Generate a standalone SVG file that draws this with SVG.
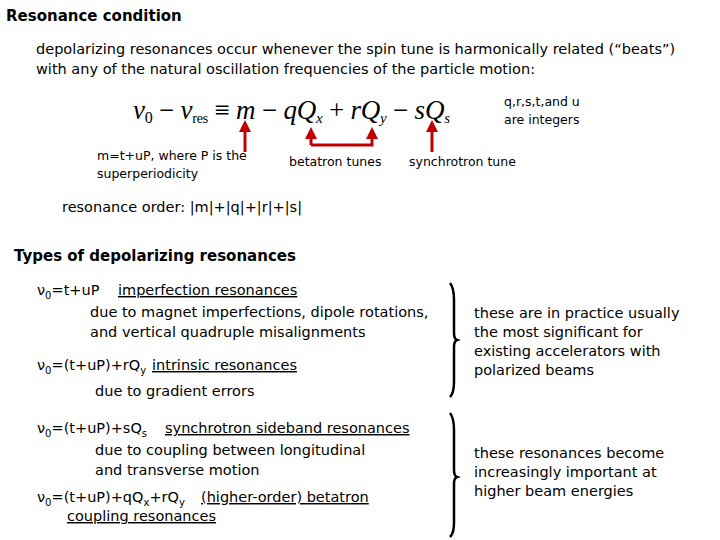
<svg xmlns="http://www.w3.org/2000/svg" width="720" height="540" viewBox="0 0 720 540">
<style>
text{font-family:"DejaVu Sans","Liberation Sans",sans-serif;fill:#000}
.b{font-weight:bold;font-size:15px}
.t{font-size:14.5px}
.s{font-size:12.5px}
.m{font-family:"Liberation Serif","DejaVu Serif",serif;font-size:27px;font-style:italic}
.u{text-decoration:underline}
.arr{stroke:#c00000;stroke-width:3;fill:none}
.br{stroke:#000;stroke-width:2.5;fill:none}
</style>
<defs><marker id="ah" markerWidth="4" markerHeight="4" refX="2" refY="2" orient="auto"><path d="M0,0L4,2L0,4z" fill="#c00000"/></marker></defs>
<rect width="720" height="540" fill="#fff"/>
<g id="title"><text class="b" x="6" y="21">Resonance condition</text></g>
<g id="intro"><text class="t" x="36" y="54">depolarizing resonances occur whenever the spin tune is harmonically related (“beats”)</text><text class="t" x="36" y="74">with any of the natural oscillation frequencies of the particle motion:</text></g>
<g id="formula"><text class="m" x="133" y="119" textLength="317" lengthAdjust="spacing">ν<tspan font-style="normal" font-size="16" dy="4">0</tspan><tspan dy="-4" font-style="normal"> − </tspan>ν<tspan font-style="normal" font-size="14" dy="4">res</tspan><tspan dy="-4" font-style="normal"> ≡ </tspan>m<tspan font-style="normal"> − </tspan>qQ<tspan font-size="15" dy="4">x</tspan><tspan dy="-4" font-style="normal"> + </tspan>rQ<tspan font-size="15" dy="4">y</tspan><tspan dy="-4" font-style="normal"> − </tspan>sQ<tspan font-size="15" dy="4">s</tspan></text></g>
<g id="integers"><text class="s" x="504" y="106">q,r,s,t,and u</text><text class="s" x="504" y="124">are integers</text></g>
<g id="connectors">
<path class="arr" d="M245,152V126" marker-end="url(#ah)"/>
<path class="arr" d="M311,145V134M311,145H372V134" />
<path class="arr" d="M311,137V133" marker-end="url(#ah)"/>
<path class="arr" d="M372,137V133" marker-end="url(#ah)"/>
<path class="arr" d="M432,152V126" marker-end="url(#ah)"/>
</g>
<g id="mlabel"><text class="s" x="97" y="160">m=t+uP, where P is the</text><text class="s" x="97" y="178">superperiodicity</text></g>
<g id="betatron"><text class="s" x="289" y="166">betatron tunes</text></g>
<g id="synchrotron"><text class="s" x="409" y="166">synchrotron tune</text></g>
<g id="order"><text class="t" x="62" y="212">resonance order: |m|+|q|+|r|+|s|</text></g>
<g id="types"><text class="b" x="14" y="261">Types of depolarizing resonances</text></g>
<g id="imperf"><text class="t" x="37" y="295">ν<tspan font-size="10" dy="4">0</tspan><tspan dy="-4">=t+uP  </tspan><tspan x="118" class="u">imperfection resonances</tspan></text>
<text class="t" x="90" y="317">due to magnet imperfections, dipole rotations,</text><text class="t" x="90" y="337">and vertical quadruple misalignments</text></g>
<g id="intrinsic"><text class="t" x="37" y="370">ν<tspan font-size="10" dy="4">0</tspan><tspan dy="-4">=(t+uP)+rQ</tspan><tspan font-size="10" dy="4">y</tspan><tspan dy="-4" x="152" class="u">intrinsic resonances</tspan></text>
<text class="t" x="95" y="396">due to gradient errors</text></g>
<g id="sideband"><text class="t" x="37" y="433">ν<tspan font-size="10" dy="4">0</tspan><tspan dy="-4">=(t+uP)+sQ</tspan><tspan font-size="10" dy="4">s</tspan><tspan dy="-4" x="165" class="u">synchrotron sideband resonances</tspan></text>
<text class="t" x="95" y="455">due to coupling between longitudinal</text><text class="t" x="95" y="475">and transverse motion</text></g>
<g id="coupling"><text class="t" x="37" y="502">ν<tspan font-size="10" dy="4">0</tspan><tspan dy="-4">=(t+uP)+qQ</tspan><tspan font-size="10" dy="4">x</tspan><tspan dy="-4">+rQ</tspan><tspan font-size="10" dy="4">y</tspan><tspan dy="-4" x="201" class="u">(higher-order) betatron</tspan></text>
<text class="t u" x="67" y="521">coupling resonances</text></g>
<g id="brace1"><path class="br" d="M450,283Q454,288 454,300V333Q454,339 457,340Q454,341 454,347V382Q454,393 450,397"/></g>
<g id="brace2"><path class="br" d="M450,413Q454,418 454,430V470Q454,476 457,477Q454,478 454,484V523Q454,533 450,537"/></g>
<g id="note1"><text class="t" x="474" y="318">these are in practice usually</text><text class="t" x="474" y="337">the most significant for</text><text class="t" x="474" y="356">existing accelerators with</text><text class="t" x="474" y="375">polarized beams</text></g>
<g id="note2"><text class="t" x="474" y="458">these resonances become</text><text class="t" x="474" y="477">increasingly important at</text><text class="t" x="474" y="496">higher beam energies</text></g>
</svg>
